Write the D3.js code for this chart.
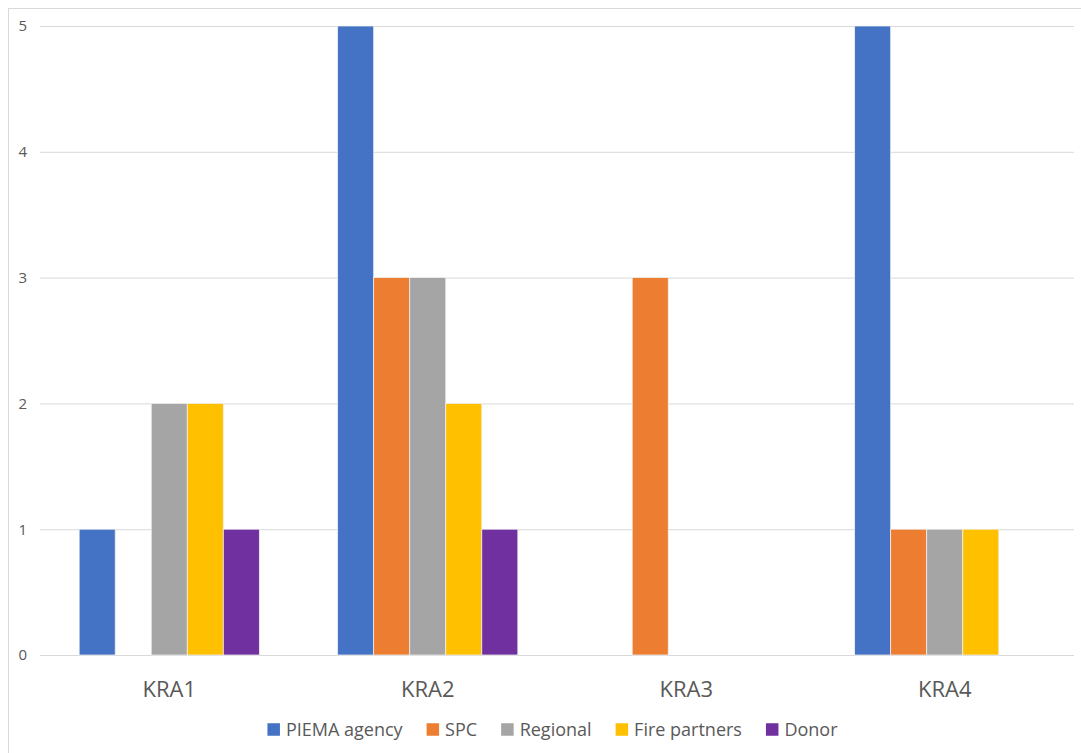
<!DOCTYPE html>
<html><head><meta charset="utf-8">
<script src="https://cdn.jsdelivr.net/npm/d3@7"></script>
<style>body{margin:0;background:#fff;}svg{display:block;}</style>
</head><body>
<svg id="chart" width="1081" height="753"></svg>
<script>
const categories = ["KRA1","KRA2","KRA3","KRA4"];
const seriesNames = ["PIEMA agency","SPC","Regional","Fire partners","Donor"];
const seriesColors = ["#4472C4","#ED7D31","#A5A5A5","#FFC000","#7030A0"];
const piema = [1,5,0,5];
const spc = [0,3,3,1];
const regional = [2,3,0,1];
const fire = [2,2,0,1];
const donor = [1,1,0,0];
const yTicks = [0,1,2,3,4,5];

(function(){
const seriesValues = [piema, spc, regional, fire, donor];
const svg = d3.select("#chart");
const font = "'Open Sans', 'Liberation Sans', sans-serif";
const textColor = "#595959";

svg.append("rect").attr("x",8.5).attr("y",8.5).attr("width",1200).attr("height",900)
  .attr("fill","none").attr("stroke","#d9d9d9");

const pLeft = 40, pRight = 1074, pTop = 26, pBottom = 655;
const x0 = d3.scaleBand().domain(categories).range([pLeft,pRight]);
const bw = x0.bandwidth();
const groupW = bw*0.697;
const x1 = d3.scaleBand().domain(seriesNames).range([(bw-groupW)/2,(bw+groupW)/2]);
const y = d3.scaleLinear().domain([0,5]).range([pBottom,pTop]);

const yAxis = d3.axisLeft(y).tickValues(yTicks).tickSize(-(pRight-pLeft)).tickFormat(d3.format("d")).tickPadding(13);
const gy = svg.append("g").attr("transform",`translate(${pLeft},0)`).call(yAxis);
gy.select(".domain").remove();
gy.selectAll(".tick line").attr("stroke","#d9d9d9").attr("stroke-width",1);
gy.selectAll(".tick text").attr("fill",textColor).attr("font-family",font).attr("font-size",15);

const groups = svg.append("g").selectAll("g").data(categories).join("g")
  .attr("transform",d=>`translate(${x0(d)},0)`);
groups.selectAll("rect").data((c,ci)=>seriesNames.map((s,si)=>({s,si,v:seriesValues[si][ci]})).filter(d=>d.v>0))
  .join("rect")
  .attr("x",d=>x1(d.s)).attr("width",x1.bandwidth())
  .attr("y",d=>y(d.v)).attr("height",d=>y(0)-y(d.v))
  .attr("fill",d=>seriesColors[d.si]).attr("stroke","#f2f2f2").attr("stroke-width",0.75);

const xAxis = d3.axisBottom(x0).tickSize(0).tickPadding(26);
const gx = svg.append("g").attr("transform",`translate(0,${pBottom})`).call(xAxis);
gx.select(".domain").remove();
gx.selectAll(".tick text").attr("fill",textColor).attr("font-family",font).attr("font-size",22);

const leg = svg.append("g").attr("transform","translate(0,729.5)");
const items = [];
let lx = 0;
seriesNames.forEach((s,i)=>{
  const g = leg.append("g");
  g.append("rect").attr("x",0).attr("y",-6.25).attr("width",12.5).attr("height",12.5).attr("fill",seriesColors[i]);
  const t = g.append("text").attr("x",18.5).attr("y",0).attr("dy","0.35em")
    .attr("fill",textColor).attr("font-family",font).attr("font-size",18).text(s);
  items.push({g,x:lx});
  lx += 18.5 + t.node().getComputedTextLength() + (i<seriesNames.length-1?24:0);
});
const start = 552.5 - lx/2;
items.forEach(it=>it.g.attr("transform",`translate(${start+it.x},0)`));
})();
</script>
</body></html>
